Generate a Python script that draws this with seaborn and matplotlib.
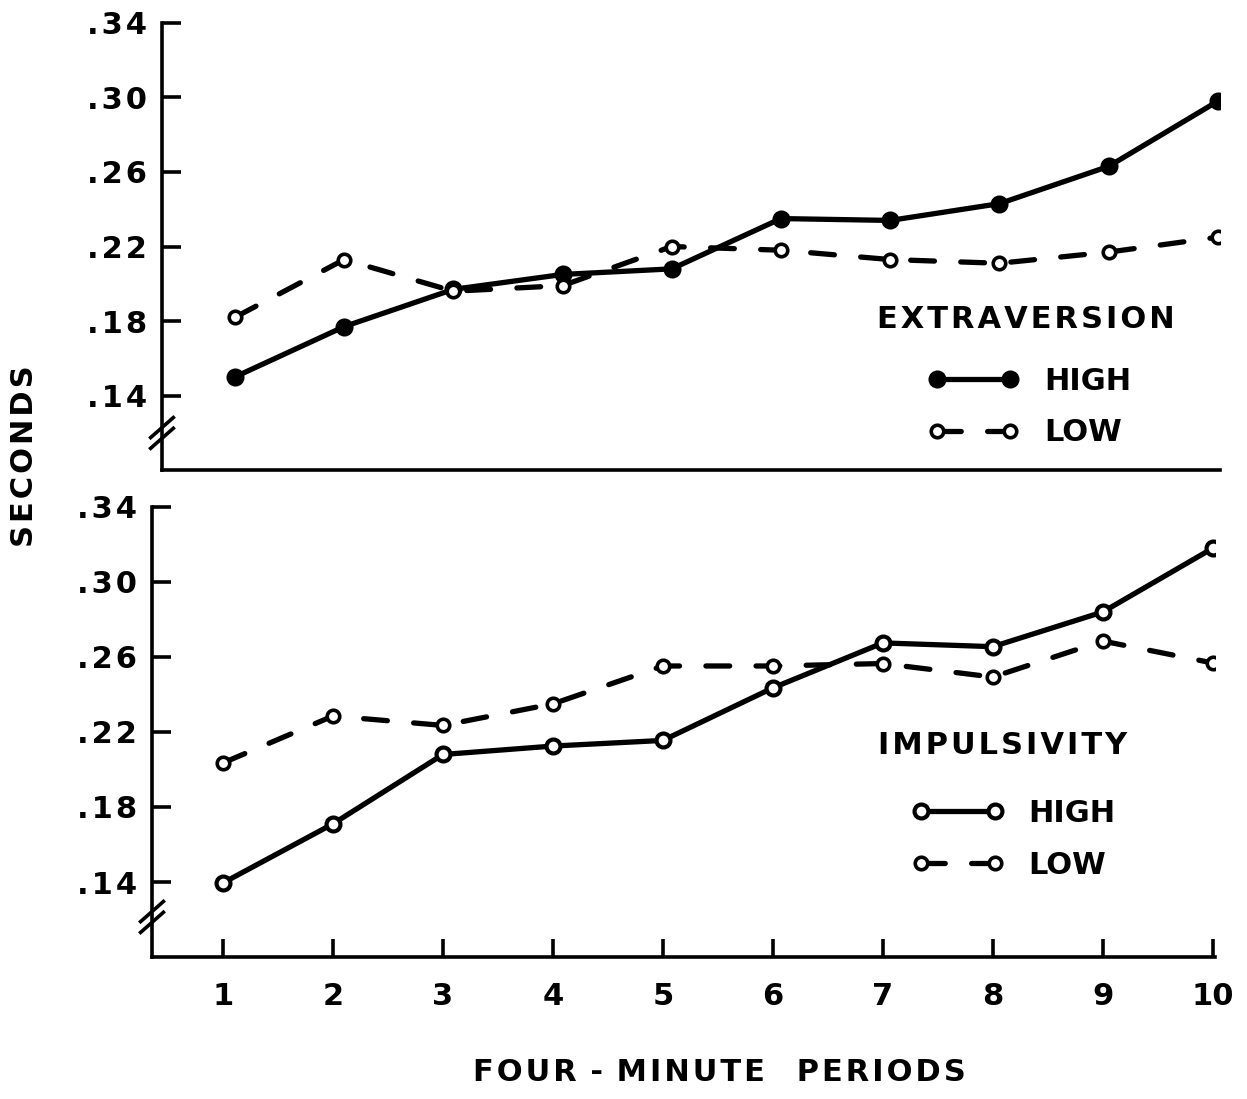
import numpy as np
import pandas as pd
import matplotlib
matplotlib.use("Agg")
import matplotlib.pyplot as plt
import seaborn as sns

# ---- data ----
periods = [1, 2, 3, 4, 5, 6, 7, 8, 9, 10]
extra_high = [0.150, 0.177, 0.197, 0.205, 0.208, 0.235, 0.234, 0.243, 0.263, 0.298]
extra_low = [0.182, 0.213, 0.196, 0.199, 0.220, 0.218, 0.213, 0.211, 0.217, 0.225]
impul_high = [0.1395, 0.171, 0.208, 0.2125, 0.2155, 0.2435, 0.2675, 0.2655, 0.284, 0.318]
impul_low = [0.2035, 0.2285, 0.2235, 0.235, 0.2552, 0.2552, 0.2565, 0.2493, 0.2685, 0.2568]
yticks = [0.14, 0.18, 0.22, 0.26, 0.30, 0.34]
ytick_labels = [".14", ".18", ".22", ".26", ".30", ".34"]
xtick_labels = ["1", "2", "3", "4", "5", "6", "7", "8", "9", "10"]
panel_titles = ["EXTRAVERSION", "IMPULSIVITY"]
series_labels = ["HIGH", "LOW"]

sns.set_style("ticks")
plt.rcParams["font.family"] = ["DejaVu Sans"]
plt.rcParams["font.weight"] = "bold"
for k in ("text.color", "axes.labelcolor", "xtick.color", "ytick.color",
          "axes.edgecolor"):
    plt.rcParams[k] = "black"

HS = "\u200a"  # hair space for letter spacing


def sp(s):
    return HS.join(s)


FS = 22
W = 2.6

df_top = pd.DataFrame({"period": periods, "high": extra_high, "low": extra_low})
df_bot = pd.DataFrame({"period": periods, "high": impul_high, "low": impul_low})

fig = plt.figure(figsize=(12.47, 10.99), dpi=100)
ax1 = fig.add_axes([0.1299, 0.5723, 0.8484, 0.4068])
ax2 = fig.add_axes([0.1219, 0.1292, 0.8524, 0.4095])

dash = (0, (4.5, 5))


def draw(ax, df, high_face):
    sns.lineplot(data=df, x="period", y="high", ax=ax, color="black", lw=3.8,
                 marker="o", markersize=10, markerfacecolor=high_face,
                 markeredgecolor="black", markeredgewidth=3.0,
                 solid_capstyle="round", label=series_labels[0])
    sns.lineplot(data=df, x="period", y="low", ax=ax, color="black", lw=3.8,
                 linestyle=dash, dash_capstyle="round",
                 marker="o", markersize=9, markerfacecolor="white",
                 markeredgecolor="black", markeredgewidth=2.6,
                 label=series_labels[1])


draw(ax1, df_top, "black")
draw(ax2, df_bot, "white")

for ax in (ax1, ax2):
    sns.despine(ax=ax)
    ax.spines["left"].set_linewidth(W)
    ax.spines["bottom"].set_linewidth(W)
    ax.set_ylim(0.10, 0.34)
    ax.set_yticks(yticks)
    ax.set_yticklabels([sp(t) for t in ytick_labels], fontsize=FS)
    ax.tick_params(axis="y", direction="in", length=14, width=W, pad=11)
    ax.set_ylabel("")
    ax.set_xlabel("")

ax1.set_xlim(0.3315, 10.02)
ax1.set_xticks([])
ax2.set_xlim(0.355, 10.02)
ax2.set_xticks(periods)
ax2.set_xticklabels(xtick_labels, fontsize=FS)
ax2.tick_params(axis="x", direction="in", length=13, width=W, pad=18)

# axis break marks
for ax, yc in ((ax1, 0.083), (ax2, 0.089)):
    for dy in (-0.012, 0.012):
        ax.plot([-0.012, 0.012], [yc + dy - 0.025, yc + dy + 0.025],
                transform=ax.transAxes, color="black", lw=W, clip_on=False,
                solid_capstyle="butt")

# legends
for ax, title, tx, ty, lx, ly in ((ax1, panel_titles[0], 0.676, 0.336, 0.724, 0.141),
                                  (ax2, panel_titles[1], 0.683, 0.471, 0.715, 0.261)):
    ax.text(tx, ty, sp(title), transform=ax.transAxes, ha="left",
            va="center", fontsize=FS)
    h, l = ax.get_legend_handles_labels()
    ax.legend(h, l, loc="center left", bbox_to_anchor=(lx, ly), frameon=False,
              fontsize=FS, handlelength=3.0, handletextpad=0.8, numpoints=2,
              labelspacing=0.75, borderpad=0, borderaxespad=0)

ax2.set_xlabel(sp("FOUR") + " " + HS + "-" + HS + " " + sp("MINUTE") + "   " + sp("PERIODS"),
               fontsize=FS, fontweight="bold")
ax2.xaxis.set_label_coords(0.534, -0.225)
fig.text(25 / 1247, 1 - 456 / 1099, sp("SECONDS"), rotation=90,
         ha="center", va="center", fontsize=FS)

fig.savefig("out.png", dpi=100, facecolor="white")
